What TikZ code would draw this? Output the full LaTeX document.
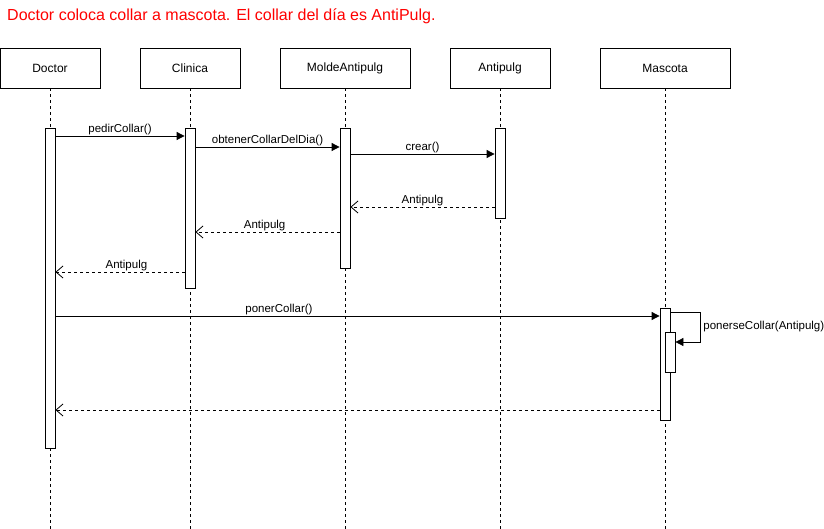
\documentclass[tikz,border=0pt]{standalone}
\usepackage{fontspec}
\setmainfont{Liberation Sans}
\usetikzlibrary{arrows.meta,positioning}

\tikzset{
  obj/.style={draw,line width=0.8pt,minimum width=100pt,minimum height=40pt,inner sep=0pt,font=\fontsize{12}{14}\selectfont},
  act/.style={draw,line width=0.8pt,fill=white,minimum width=10pt,inner sep=0pt},
  life/.style={line width=0.8pt,dash pattern=on 3pt off 3pt},
  call/.style={line width=0.8pt,-{Triangle[length=8pt,width=8pt]}},
  ret/.style={line width=0.8pt,dash pattern=on 3pt off 3pt,-{Straight Barb[length=7pt,width=12pt]}},
  lbl/.style={font=\fontsize{11.5}{13}\selectfont,above,inner sep=1pt}
}

\begin{document}
\begin{tikzpicture}[x=1pt,y=-1pt]
  \useasboundingbox (0,0) rectangle (824,529);
  \node[anchor=base west,text=red,inner sep=0pt,font=\fontsize{16}{19}\selectfont] (title) at (7,21)
    {Doctor coloca collar a mascota. El collar del día es AntiPulg.};

  % objetos
  \node[obj] (hDoc) at (50,68) {Doctor};
  \node[obj] (hCli) at (190,68) {Clinica};
  \node[obj,minimum width=130pt] (hMol) at (345,68) {MoldeAntipulg};
  \node[obj] (hAnt) at (500,68) {Antipulg};
  \node[obj,minimum width=130pt] (hMas) at (665,68) {Mascota};

  \coordinate (bot) at (0,529);
  \foreach \h in {hDoc,hCli,hMol,hAnt,hMas}
    \draw[life] (\h.south) -- (\h.south |- bot);

  % activaciones
  \node[act,minimum height=320pt] (aDoc) at (50,288) {};
  \node[act,minimum height=160pt] (aCli) at (190,208) {};
  \node[act,minimum height=140pt] (aMol) at (345,198) {};
  \node[act,minimum height=90pt] (aAnt) at (500,173) {};
  \node[act,minimum height=112pt] (aMas) at (665,364) {};
  \node[act,minimum height=40pt] (aMas2) at (670,352) {};

  % mensajes
  \coordinate (m1) at (0,136);
  \coordinate (m2) at (0,147);
  \coordinate (m3) at (0,154);
  \coordinate (m4) at (0,207);
  \coordinate (m5) at (0,232);
  \coordinate (m6) at (0,272);
  \coordinate (m7) at (0,316);
  \coordinate (s1) at (0,312);
  \coordinate (s2) at (700,342);
  \coordinate (m8) at (0,410);

  \draw[call] (aDoc.east |- m1) -- (aCli.west |- m1) node[lbl,midway] {pedirCollar()};
  \draw[call] (aCli.east |- m2) -- (aMol.west |- m2) node[lbl,midway] {obtenerCollarDelDia()};
  \draw[call] (aMol.east |- m3) -- (aAnt.west |- m3) node[lbl,midway] {crear()};
  \draw[ret] (aAnt.west |- m4) -- (aMol.east |- m4) node[lbl,midway] {Antipulg};
  \draw[ret] (aMol.west |- m5) -- (aCli.east |- m5) node[lbl,pos=0.52] {Antipulg};
  \draw[ret] (aCli.west |- m6) -- (aDoc.east |- m6) node[lbl,pos=0.45] {Antipulg};
  \draw[call] (aDoc.east |- m7) -- (aMas.west |- m7) node[lbl,pos=0.37] {ponerCollar()};
  \draw[call] (aMas.east |- s1) -| (s2) node[pos=0.75,right,inner sep=3pt,font=\fontsize{11.5}{13}\selectfont] {ponerseCollar(Antipulg)}
    -- (aMas2.east |- s2);
  \draw[ret] (aMas.west |- m8) -- (aDoc.east |- m8);
\end{tikzpicture}
\end{document}
